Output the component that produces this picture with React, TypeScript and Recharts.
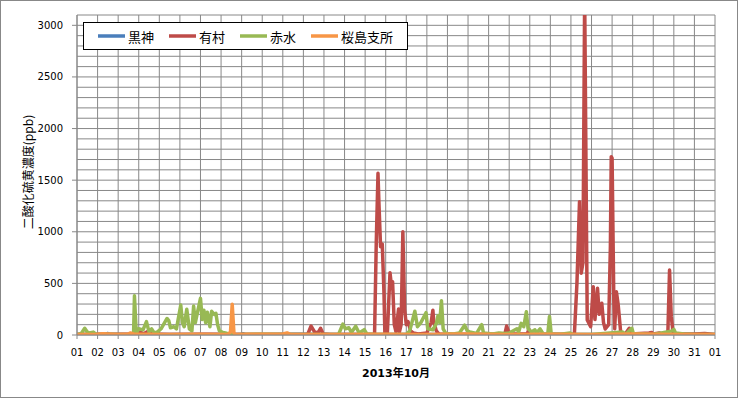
import React from 'react';
import { LineChart, Line, XAxis, YAxis, CartesianGrid, Legend, Label } from 'recharts';

// x positions are hours since 2013-10-01 00:00
const dayLabels = ['01','02','03','04','05','06','07','08','09','10','11','12','13','14','15','16','17','18','19','20','21','22','23','24','25','26','27','28','29','30','31','01'];
const dayTicks = dayLabels.map((_, i) => i * 24);
const yTicks = [0, 500, 1000, 1500, 2000, 2500, 3000];
const yGridValues = [0,100,200,300,400,500,600,700,800,900,1000,1100,1200,1300,1400,1500,1600,1700,1800,1900,2000,2100,2200,2300,2400,2500,2600,2700,2800,2900,3000,3100];

const seriesNames = ['黒神', '有村', '赤水', '桜島支所'];
const seriesColors = ['#4A7EBB', '#BE4B48', '#98B954', '#F79646'];

const kurokami: [number, number][] = [
  [0,5],[34,8],[36,15],[38,5],[100,6],[150,5],[192,8],[194,12],[196,5],[260,8],[300,5],[400,5],[500,6],[600,5],[700,6],[744,5],
];

const arimura: [number, number][] = [
  [0,5],[30,8],[62,10],[70,20],[74,30],[77,10],[84,40],[86,10],[108,5],[150,8],[200,5],[269,5],[273,87],[277,30],[281,20],[284,65],[287,10],[295,5],
  [347,5],[349,900],[351,1567],[352,1300],[354,856],[356,880],[358,400],[359,20],[362,30],[365,604],[367,450],[368,517],[370,100],[372,30],[375,252],[376,30],[378,100],[380,1001],[382,250],[384,100],[386,130],[389,40],[392,20],[398,10],[408,20],[413,120],[415,240],[416,130],[419,40],[422,10],[432,5],
  [499,10],[501,87],[503,40],[506,10],[525,10],[527,55],[530,10],[580,5],[583,500],[586,1292],[588,598],[590,700],[592,3300],[595,145],[599,80],[602,468],[604,150],[607,452],[609,200],[612,307],[614,120],[616,58],[620,100],[622,856],[623,1728],[624,1713],[626,339],[627,60],[629,420],[631,300],[634,30],[639,5],[644,65],[646,10],
  [667,20],[670,25],[672,10],[679,20],[684,5],[689,10],[691,630],[693,180],[695,30],[698,10],[720,10],[732,15],[744,5],
];

const akamizu: [number, number][] = [
  [0,5],[5,15],[9,65],[12,30],[14,20],[19,28],[22,8],[29,5],[36,8],[48,5],[60,3],[64,10],[66,25],[67,380],[69,40],[70,30],[72,60],[77,50],[81,130],[84,30],[87,60],[90,20],[94,30],[98,60],[105,160],[107,140],[109,70],[113,80],[116,60],[121,290],[123,120],[125,80],[128,250],[131,60],[134,40],[136,280],[138,120],[140,200],[144,355],[146,150],[148,240],[150,120],[152,220],[155,80],[157,230],[160,200],[162,210],[164,100],[166,40],[170,25],[173,20],[178,8],[185,3],[192,5],[220,8],[260,5],
  [305,5],[310,105],[313,60],[317,70],[320,25],[325,85],[329,20],[335,52],[338,10],[348,5],[384,5],[388,40],[394,230],[397,80],[401,120],[407,216],[409,60],[415,50],[419,110],[421,187],[423,120],[425,332],[427,60],[430,15],[439,10],[446,20],[452,95],[455,40],[458,30],[466,15],[472,100],[474,20],[485,10],[492,20],[499,15],
  [504,20],[513,60],[515,30],[518,113],[521,80],[524,226],[526,60],[530,30],[534,50],[536,20],[540,60],[544,5],[549,10],[551,180],[553,10],[564,8],[575,20],[578,5],[600,5],[636,30],[640,8],[647,65],[649,10],[660,10],[672,5],[694,40],[696,55],[698,20],[708,10],[720,5],[744,5],
];

const sakurajima: [number, number][] = [
  [0,5],[24,8],[30,12],[48,5],[60,10],[62,20],[66,10],[96,5],[144,8],[176,5],[179,30],[181,297],[183,20],[185,5],[200,8],[240,10],[245,20],[248,8],[300,5],[360,8],[400,5],[450,10],[500,5],[550,8],[600,5],[650,10],[700,5],[744,5],
];

const seriesData = [kurokami, arimura, akamizu, sakurajima].map((pairs) => pairs.map(([t, v]) => ({ t, v })));

const tickStyle = { fontSize: 10, fill: '#000', fontFamily: '"DejaVu Sans", sans-serif' };

const LegendBox = () => (
  <div
    style={{
      display: 'flex',
      alignItems: 'center',
      border: '1px solid #000',
      background: '#fff',
      height: 28,
      boxSizing: 'border-box',
      padding: '0 14px',
      fontFamily: '"Noto Sans CJK JP", sans-serif',
      fontSize: 13,
      color: '#000',
      whiteSpace: 'nowrap',
    }}
  >
    {seriesNames.map((n, i) => (
      <div key={n} style={{ display: 'flex', alignItems: 'center', marginRight: i < seriesNames.length - 1 ? 15 : 0 }}>
        <svg width={27} height={6}>
          <line x1={0} y1={3} x2={27} y2={3} stroke={seriesColors[i]} strokeWidth={3.5} />
        </svg>
        <span style={{ marginLeft: 3 }}>{n}</span>
      </div>
    ))}
  </div>
);

export default function App() {
  return (
    <div style={{ position: 'absolute', left: 0, top: 0, width: 738, height: 398, background: '#fff' }}>
      <LineChart width={738} height={398} margin={{ top: 15, right: 23, bottom: 33, left: 0 }}>
        <CartesianGrid stroke="#888" horizontalValues={yGridValues} />
        <XAxis
          dataKey="t"
          type="number"
          domain={[0, 744]}
          ticks={dayTicks}
          interval={0}
          allowDataOverflow
          height={30}
          tickSize={4}
          tickMargin={10}
          tick={tickStyle}
          tickLine={{ stroke: '#888' }}
          axisLine={{ stroke: '#888' }}
          tickFormatter={(v: number) => dayLabels[Math.round(v / 24)]}
        >
          <Label
            content={() => (
              <text x={396} y={377} textAnchor="middle" fontSize={11} fontWeight="bold" fontFamily='"DejaVu Sans", "Noto Sans CJK JP", sans-serif' fill="#000">
                2013年10月
              </text>
            )}
          />
        </XAxis>
        <YAxis
          type="number"
          domain={[0, 3100]}
          ticks={yTicks}
          interval={0}
          allowDataOverflow
          width={77}
          tickSize={5}
          tickMargin={9}
          tick={tickStyle}
          tickLine={{ stroke: '#888' }}
          axisLine={{ stroke: '#888' }}
        >
          <Label
            content={() => (
              <text
                x={27}
                y={172}
                transform="rotate(-90, 27, 172)"
                textAnchor="middle"
                dominantBaseline="central"
                fontSize={12}
                fontFamily='"Noto Sans CJK JP", sans-serif'
                fill="#000"
              >
                二酸化硫黄濃度(ppb)
              </text>
            )}
          />
        </YAxis>
        {seriesData.map((d, i) => (
          <Line
            key={seriesNames[i]}
            data={d}
            dataKey="v"
            name={seriesNames[i]}
            type="linear"
            stroke={seriesColors[i]}
            strokeWidth={3.5}
            strokeLinejoin="round"
            dot={false}
            activeDot={false}
            isAnimationActive={false}
          />
        ))}
        <Legend
          layout="vertical"
          align="center"
          verticalAlign="middle"
          content={() => <LegendBox />}
          wrapperStyle={{ position: 'absolute', left: 83, top: 22, width: 'auto', height: 'auto' }}
        />
      </LineChart>
      <div
        style={{
          position: 'absolute',
          left: 0,
          top: 0,
          width: 738,
          height: 398,
          border: '1px solid #888',
          boxSizing: 'border-box',
          pointerEvents: 'none',
        }}
      />
    </div>
  );
}
